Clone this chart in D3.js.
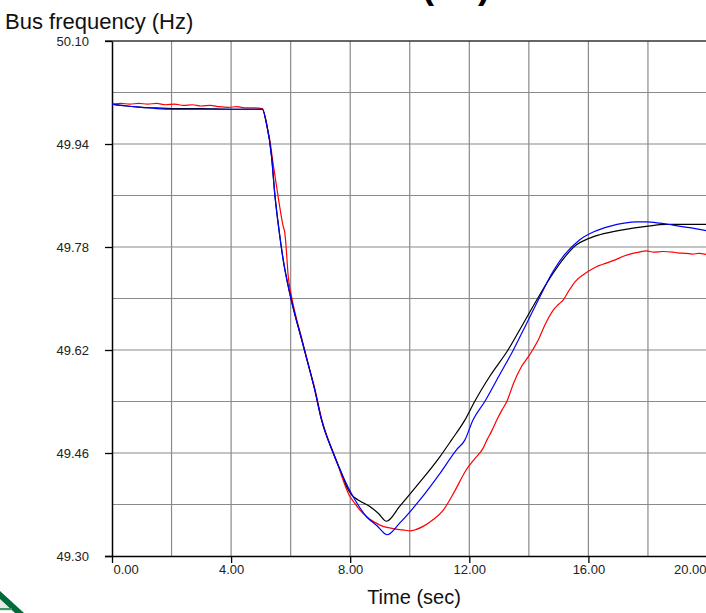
<!DOCTYPE html>
<html>
<head>
<meta charset="utf-8">
<script src="https://cdn.jsdelivr.net/npm/d3@7"></script>
<style>
  html, body { margin: 0; padding: 0; background: #ffffff; }
  svg { display: block; }
  text { font-family: "Liberation Sans", Arial, sans-serif; }
</style>
</head>
<body>
<svg id="chart" width="706" height="613"></svg>
<script>
// ---- data (time in s, bus frequency in Hz) ----
const xTickValues = [0, 4, 8, 12, 16, 20];
const yTickValues = [49.30, 49.46, 49.62, 49.78, 49.94, 50.10];
const xGridValues = [2, 4, 6, 8, 10, 12, 14, 16, 18, 20];
const yGridValues = [49.38, 49.46, 49.54, 49.62, 49.70, 49.78, 49.86, 49.94, 50.02];

const blackSeries = [
  [0, 50.002], [0.5, 49.999], [1.0, 49.997], [1.5, 49.996], [2.0, 49.995], [3.0, 49.995], [4.0, 49.994],
  [5.05, 49.994], [5.19, 49.972], [5.36, 49.920], [5.47, 49.861], [5.61, 49.806], [5.75, 49.760],
  [5.97, 49.708], [6.37, 49.636], [6.81, 49.558], [7.04, 49.511], [7.43, 49.460], [7.76, 49.423],
  [7.88, 49.408], [8.05, 49.395], [8.27, 49.387], [8.66, 49.377], [8.95, 49.366], [9.22, 49.354],
  [9.66, 49.377], [10.22, 49.408], [11.01, 49.454], [11.40, 49.480], [11.85, 49.511], [12.18, 49.540],
  [12.7, 49.580], [13.30, 49.620], [13.8, 49.660], [14.27, 49.698], [14.81, 49.739], [15.2, 49.764],
  [15.59, 49.783], [16.0, 49.793], [16.38, 49.799], [17.2, 49.807], [17.94, 49.812], [18.61, 49.815],
  [19.3, 49.815], [20.0, 49.815]
];

const blueSeries = [
  [0, 50.002], [0.5, 49.999], [1.0, 49.997], [1.5, 49.995], [2.0, 49.994], [3.0, 49.994], [4.0, 49.994],
  [5.05, 49.994], [5.19, 49.972], [5.36, 49.920], [5.47, 49.861], [5.61, 49.806], [5.75, 49.760],
  [5.97, 49.708], [6.37, 49.636], [6.81, 49.558], [7.04, 49.511], [7.43, 49.460], [7.76, 49.423],
  [8.10, 49.392], [8.55, 49.361], [8.9, 49.347], [9.24, 49.333], [9.66, 49.351], [10.34, 49.387],
  [11.01, 49.428], [11.57, 49.465], [11.85, 49.480], [12.12, 49.511], [12.52, 49.540], [13.0, 49.580],
  [13.48, 49.620], [13.9, 49.659], [14.32, 49.698], [14.81, 49.742], [15.2, 49.768], [15.70, 49.791],
  [16.2, 49.804], [16.71, 49.812], [17.2, 49.817], [17.61, 49.819], [17.94, 49.819], [18.4, 49.817],
  [18.84, 49.814], [19.4, 49.810], [20.0, 49.805]
];

const redSeries = [
  [0, 50.002], [0.3, 50.003], [0.6, 50.002], [0.9, 50.003], [1.2, 50.002], [1.5, 50.003], [1.8, 50.001],
  [2.1, 50.002], [2.4, 50.000], [2.7, 50.001], [3.0, 49.999], [3.3, 50.000], [3.6, 49.998], [3.9, 49.997],
  [4.2, 49.998], [4.5, 49.996], [4.8, 49.996], [5.05, 49.995], [5.2, 49.968], [5.3, 49.946], [5.41, 49.910],
  [5.58, 49.858], [5.75, 49.812], [5.8, 49.803], [5.83, 49.790], [5.92, 49.734], [6.03, 49.703],
  [6.2, 49.668], [6.4, 49.633], [6.6, 49.596], [6.81, 49.560], [7.04, 49.513], [7.2, 49.489],
  [7.43, 49.461], [7.6, 49.440], [7.76, 49.418], [7.95, 49.396], [8.15, 49.382], [8.35, 49.370],
  [8.55, 49.361], [8.8, 49.353], [9.1, 49.346], [9.4, 49.343], [9.66, 49.341], [9.85, 49.340],
  [10.0, 49.339], [10.2, 49.341], [10.45, 49.346], [10.8, 49.357], [11.12, 49.371], [11.5, 49.400],
  [11.9, 49.434], [12.2, 49.452], [12.47, 49.468], [12.59, 49.480], [12.75, 49.494], [12.92, 49.511],
  [13.1, 49.527], [13.26, 49.540], [13.5, 49.570], [13.75, 49.594], [13.99, 49.610], [14.15, 49.622],
  [14.32, 49.636], [14.55, 49.660], [14.82, 49.682], [15.0, 49.691], [15.16, 49.698], [15.33, 49.711],
  [15.55, 49.726], [15.83, 49.737], [16.1, 49.745], [16.35, 49.751], [16.6, 49.755], [16.9, 49.760],
  [17.2, 49.766], [17.49, 49.770], [17.7, 49.772], [17.94, 49.774], [18.2, 49.772], [18.5, 49.773],
  [18.84, 49.772], [19.0, 49.771], [19.28, 49.770], [19.5, 49.769], [19.7, 49.770], [20.0, 49.768]
];

// ---- layout ----
const svg = d3.select("#chart");
const x = d3.scaleLinear().domain([0, 20]).range([112, 707.5]);
const y = d3.scaleLinear().domain([49.30, 50.10]).range([556, 41]);

// logo fragment bottom-left
svg.append("path").attr("d", "M0,599 L13,611 L0,611 Z").attr("fill", "#e6e9e4");
svg.append("path").attr("d", "M0,591 L24,613 L15,613 L0,599 Z").attr("fill", "#006a3a");
svg.append("rect").attr("x", 0).attr("y", 608).attr("width", 12).attr("height", 2).attr("fill", "#3c9a64");

// clipped big title (only the bottom shows)
svg.append("text").attr("x", 490).attr("y", -2.5).attr("text-anchor", "end")
  .attr("font-size", 36).attr("font-weight", "bold").attr("fill", "#000").text("BUS (Hz)");

// grid
const grid = svg.append("g").attr("stroke", "#8a8a8a").attr("stroke-width", 1.2);
grid.selectAll("line.v").data(xGridValues).join("line").attr("class", "v")
  .attr("x1", d => x(d)).attr("x2", d => x(d)).attr("y1", y(50.10)).attr("y2", y(49.30));
grid.selectAll("line.h").data(yGridValues).join("line").attr("class", "h")
  .attr("x1", x(0)).attr("x2", 706).attr("y1", d => y(d)).attr("y2", d => y(d));

// top frame line
svg.append("line").attr("x1", x(0) - 7).attr("x2", 706).attr("y1", y(50.10)).attr("y2", y(50.10))
  .attr("stroke", "#333").attr("stroke-width", 1.5);

// axes
const fmt = d3.format(".2f");
const yAxis = svg.append("g").attr("transform", `translate(${x(0)},0)`)
  .call(d3.axisLeft(y).tickValues(yTickValues).tickFormat(fmt).tickSize(7).tickSizeOuter(0).tickPadding(16));
const xAxis = svg.append("g").attr("transform", `translate(0,${y(49.30)})`)
  .call(d3.axisBottom(x).tickValues(xTickValues).tickFormat(fmt).tickSize(7).tickSizeOuter(0).tickPadding(2));
[yAxis, xAxis].forEach(g => {
  g.select(".domain").attr("stroke", "#000").attr("stroke-width", 1.5);
  g.selectAll(".tick line").attr("stroke", "#000").attr("stroke-width", 1.3);
  g.selectAll("text").attr("font-size", 13).attr("font-family", "'Liberation Sans', Arial, sans-serif").attr("fill", "#222");
});
xAxis.select(".domain").attr("d", `M${x(0) - 7},0.5H706`);
// first / last x labels kept inside plot
xAxis.selectAll(".tick text").filter(d => d === 0).attr("text-anchor", "start").attr("x", 1);
xAxis.selectAll(".tick text").filter(d => d === 20).attr("text-anchor", "end").attr("x", 706 - x(20));

// series
const line = d3.line().x(d => x(d[0])).y(d => y(d[1])).curve(d3.curveMonotoneX);
const plot = svg.append("g");
plot.append("path").datum(redSeries).attr("d", line).attr("fill", "none").attr("stroke", "#ff0000").attr("stroke-width", 1.2);
plot.append("path").datum(blackSeries).attr("d", line).attr("fill", "none").attr("stroke", "#000000").attr("stroke-width", 1.2);
plot.append("path").datum(blueSeries).attr("d", line).attr("fill", "none").attr("stroke", "#0000ff").attr("stroke-width", 1.2);

// axis titles
svg.append("text").attr("x", 5).attr("y", 29).attr("font-size", 22).attr("fill", "#111").text("Bus frequency (Hz)");
svg.append("text").attr("x", 414).attr("y", 604).attr("text-anchor", "middle").attr("font-size", 20).attr("fill", "#111").text("Time (sec)");
</script>
</body>
</html>
